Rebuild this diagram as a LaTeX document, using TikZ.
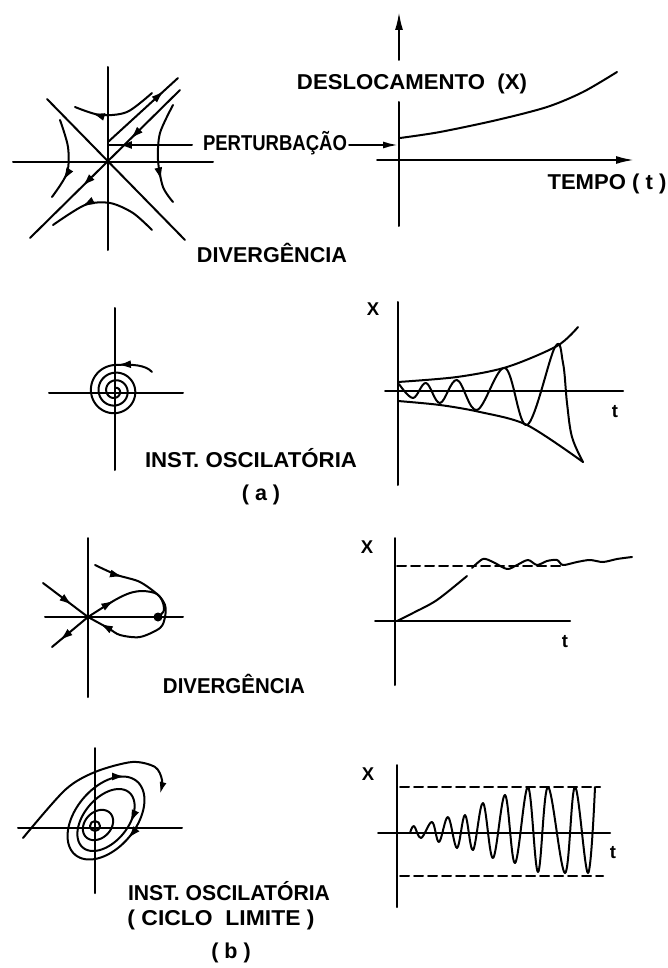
\documentclass[tikz,border=0pt]{standalone}
\usepackage{graphicx}
\usepackage{fontspec}
\setmainfont{Liberation Sans}
\usetikzlibrary{arrows.meta,decorations.markings,calc}
\tikzset{
  ln/.style={line width=2pt, line cap=round, line join=round},
  tipA/.tip={Latex[length=13pt,width=8pt]},
  marr/.style={postaction={decorate}, decoration={markings, mark=at position #1 with {\arrow{tipA}}}},
  marrtwo/.style 2 args={postaction={decorate}, decoration={markings, mark=at position #1 with {\arrow{tipA}}, mark=at position #2 with {\arrow{tipA}}}},
  lbl/.style={font=\fontsize{21.5}{24}\selectfont\bfseries, inner sep=0pt, anchor=base},
  sml/.style={font=\fontsize{18.5}{20}\selectfont\bfseries, inner sep=0pt, anchor=base},
  dsh/.style={dash pattern=on 9pt off 5pt},
  axarr/.style={-{Latex[length=18pt,width=8pt]}},
}
\newcommand\fw[2]{\resizebox{#1pt}{\height}{#2}}
\begin{document}
\begin{tikzpicture}[x=1pt,y=-1pt]
\useasboundingbox (0,0) rectangle (668,968);

% ---------- Panel 1: saddle ----------
\draw[ln] (108,67) -- (108,250);
\draw[ln] (13,162) -- (213,162);
\draw[ln] (47,99) -- (185,240);
\draw[ln, marrtwo={0.33}{0.65}] (180,90) -- (30,238);
\draw[ln, marr=0.8] (108,142) -- (178,78);
\draw[ln, marr=0.79] plot[smooth] coordinates {(152,93) (127,112) (100,115) (75,107)};
\draw[ln, marr=0.7] plot[smooth] coordinates {(152,230) (133,213) (110,203) (85,205) (53,225)};
\draw[ln, marr=0.76] plot[smooth] coordinates {(60,120) (68,147) (67,173) (52,197)};
\draw[ln, marr=0.76] plot[smooth] coordinates {(173,105) (160,133) (158,160) (163,187) (173,202)};
\node[lbl] (pert) at (275,151) {\fw{144}{PERTURBAÇÃO}};
\coordinate (pL) at (192,145);
\coordinate (pA) at (108,145);
\coordinate (pR0) at (349,145);
\coordinate (pR1) at (398,145);
\draw[ln, marr=0.87] (pL) -- (pA);
\draw[ln, -{Latex[length=15pt,width=7pt]}] (pR0) -- (pR1);
\node[lbl] (div1) at (272,262) {\fw{150}{DIVERGÊNCIA}};

% ---------- Panel 2: time response ----------
\draw[ln] (399,226) -- (399,102);
\draw[ln, axarr] (399,60) -- (399,12);
\draw[ln, axarr] (377,160) -- (634,160);
\draw[ln] plot[smooth] coordinates {(400,138) (440,132) (497,120) (547,107) (583,92) (617,72)};
\node[lbl] (desl) at (412,90) {\fw{230}{DESLOCAMENTO\ \ (X)}};
\node[lbl] (tempo) at (607,190) {\fw{119}{TEMPO ( t )}};

% ---------- Panel 3: spiral ----------
\draw[ln] (115,308) -- (115,470);
\draw[ln] (49,393) -- (183,393);
\draw[ln] plot[domain=90:1170, samples=300, smooth] ({115 + (26-(\x-90)/47)*cos(\x)}, {391 - (26-(\x-90)/47)*sin(\x)});
\draw[ln, marr=0.95] (152,372) .. controls (146,365) and (132,364) .. (116,365);
\node[lbl] (osc1) at (251,467) {\fw{212}{INST. OSCILATÓRIA}};
\node[lbl] (pa) at (261,500) {( a )};

% ---------- Panel 4: growing oscillation ----------
\draw[ln] (398,302) -- (398,485);
\draw[ln] (385,391) -- (623,391);
\draw[ln] plot[smooth] coordinates {(398,382) (457,377) (507,367) (557,346) (578,327)};
\draw[ln] plot[smooth] coordinates {(398,401) (440,405) (480,412) (527,425) (583,462)};
\draw[ln] plot[smooth, tension=0.6] coordinates {(399,384) (413,398) (426,383) (440,403) (457,380) (477,410) (505,368) (527,425) (555,347) (563,363) (567,403) (572,437) (583,462)};
\node[sml] (x4) at (373,315) {X};
\node[sml] (t4) at (615,417) {t};

% ---------- Panel 5: divergence with node ----------
\draw[ln] (88,538) -- (88,697);
\draw[ln] (45,617) -- (183,617);
\fill (158,617) circle (4.5);
\draw[ln, marr=0.65] (43,583) -- (88,617);
\draw[ln, marr=0.78] (88,617) -- (52,647);
\draw[ln, marr=0.32] plot[smooth] coordinates {(95,565) (117,575) (140,582) (160,597) (164,610) (159,616)};
\draw[ln, marrtwo={0.16}{0.93}] plot[smooth] coordinates {(88,617) (115,600) (130,593) (143,591) (157,594) (165,605) (165,617) (160,628) (140,637) (120,635) (108,628) (88,617)};
\node[lbl] (div2) at (234,693) {\fw{142}{DIVERGÊNCIA}};

% ---------- Panel 6: settling ----------
\draw[ln] (395,538) -- (395,685);
\draw[ln] (375,621) -- (570,621);
\draw[ln, dsh] (397,566) -- (563,566);
\draw[ln] plot[smooth] coordinates {(397,621) (413,613) (437,600) (467,576)};
\draw[ln] plot[smooth] coordinates {(472,568) (483,559) (493,562) (507,569) (517,565) (528,560) (537,565) (547,561) (557,560) (563,565) (577,562) (590,560) (603,562) (617,559) (632,557)};
\node[sml] (x6) at (367,553) {X};
\node[sml] (t6) at (565,647) {t};

% ---------- Panel 7: limit cycle phase plane ----------
\draw[ln] (95,748) -- (95,893);
\draw[ln] (18,828) -- (182,828);
\draw[ln, -{Latex[length=12pt,width=7pt]}] plot[smooth] coordinates {(23,838) (65,790) (95,772) (132,762) (155,767) (162,780) (160,794)};
\draw[ln] plot[domain=0:360, samples=73, smooth] ({106 + 48*cos(\x)*cos(50) - 30*sin(\x)*sin(50)}, {818 - 48*cos(\x)*sin(50) - 30*sin(\x)*cos(50)});
\draw[ln] plot[domain=0:360, samples=73, smooth] ({106 + 36*cos(\x)*cos(50) - 22*sin(\x)*sin(50)}, {820 - 36*cos(\x)*sin(50) - 22*sin(\x)*cos(50)});
\draw[ln] plot[domain=0:360, samples=61, smooth] ({98 + 17*cos(\x)*cos(45) - 13*sin(\x)*sin(45)}, {825 - 17*cos(\x)*sin(45) - 13*sin(\x)*cos(45)});
\draw[ln] (95,826) circle (5);
\coordinate (a1s) at (116,776.5); \coordinate (a1e) at (125,776.5);
\coordinate (a2s) at (133.8,831.8); \coordinate (a2e) at (127.9,838.6);
\coordinate (a3s) at (133,816.5); \coordinate (a3e) at (130.3,822.8);
\draw[ln, -{tipA}] (a1s) -- (a1e);
\draw[ln, -{tipA}] (a2s) -- (a2e);
\draw[ln, -{tipA}] (a3s) -- (a3e);
\node[lbl] (osc2) at (229,900) {\fw{202}{INST. OSCILATÓRIA}};
\node[lbl] (ciclo) at (221,925) {\fw{187}{( CICLO\ \ LIMITE )}};
\node[lbl] (pb) at (231,958) {( b )};

% ---------- Panel 8: limit cycle time response ----------
\draw[ln] (397,765) -- (397,907);
\draw[ln] (378,833) -- (610,833);
\draw[ln, dsh] (400,787) -- (600,787);
\draw[ln, dsh] (400,876) -- (603,876);
\draw[ln] plot[smooth, tension=0.6] coordinates {(410,833) (414,826) (421,838) (432,822) (439,842) (448,817) (457,848) (465,815) (473,850) (483,803) (493,858) (505,795) (515,863) (528,787) (538,872) (548,787) (565,873) (575,787) (588,873) (595,787)};
\node[sml] (x8) at (368,780) {X};
\node[sml] (t8) at (613,858) {t};
\end{tikzpicture}
\end{document}
